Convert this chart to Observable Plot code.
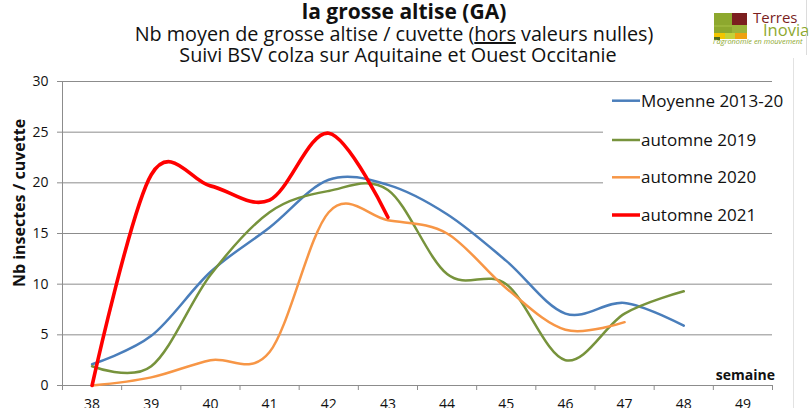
<!DOCTYPE html>
<html><head><meta charset="utf-8">
<script src="https://cdn.jsdelivr.net/npm/d3@7"></script>
<script src="https://cdn.jsdelivr.net/npm/@observablehq/plot@0.6"></script>
<style>
body{margin:0;background:#fff;font-family:"Open Sans",sans-serif;}
#wrap{position:relative;width:812px;height:408px;overflow:hidden;background:#fff;}
#chart{position:absolute;left:0;top:0;}
#overlay{position:absolute;left:0;top:0;pointer-events:none;font-family:"Open Sans",sans-serif;}
</style></head><body>
<div id="wrap">
  <div id="chart"></div>
  <svg id="overlay" width="812" height="408" xmlns="http://www.w3.org/2000/svg">
    <text x="404" y="18.5" text-anchor="middle" font-size="21" font-weight="bold" fill="#111">la grosse altise (GA)</text>
    <text x="394" y="41" text-anchor="middle" font-size="19.8" fill="#111">Nb moyen de grosse altise / cuvette (<tspan text-decoration="underline">hors</tspan> valeurs nulles)</text>
    <text x="398" y="62" text-anchor="middle" font-size="19.8" fill="#111">Suivi BSV colza sur Aquitaine et Ouest Occitanie</text>
    <text transform="translate(25,203) rotate(-90)" text-anchor="middle" font-size="16" font-weight="bold" fill="#111">Nb insectes / cuvette</text>
    <text x="775" y="380" text-anchor="end" font-size="14" font-weight="bold" fill="#111">semaine</text>
    <g id="legend"></g>
    <!-- logo -->
    <rect x="714" y="13" width="18" height="14" fill="#8da82e"/>
    <rect x="732" y="13" width="15" height="12" fill="#7b1f1f"/>
    <rect x="714" y="25" width="33" height="8" fill="#9bb53a"/>
    <rect x="714" y="27" width="18" height="6" fill="#8da82e"/>
    <rect x="714" y="33" width="11" height="6" fill="#f2c500"/>
    <rect x="725" y="33" width="10" height="6" fill="#c4d23a"/>
    <rect x="735" y="33" width="12" height="6" fill="#efa20f"/>
    <rect x="714" y="37" width="6" height="3" fill="#4e6b1f"/>
    <text x="753" y="23" font-size="15" fill="#7b1f1f">Terres</text>
    <text x="763" y="35.5" font-size="16.5" fill="#8da82e">Inovia</text>
    <text x="713" y="44" font-size="7.4" font-style="italic" fill="#8da82e">l'agronomie en mouvement</text>
    <rect x="806" y="0" width="1" height="27" fill="#dcdcdc"/>
    <rect x="806" y="33" width="1" height="22" fill="#dcdcdc"/>
    <rect x="793" y="58" width="1" height="350" fill="#e2e2e2"/>
  </svg>
</div>
<script>
// ---- data ----
const weeks = [38, 39, 40, 41, 42, 43, 44, 45, 46, 47, 48, 49];
const yTicks = [0, 5, 10, 15, 20, 25, 30];
const seriesNames = ["Moyenne 2013-20", "automne 2019", "automne 2020", "automne 2021"];
const moyenne2013_20 = [2.1, 4.9, 11.2, 15.6, 20.3, 19.8, 16.9, 12.3, 7.1, 8.15, 5.9];
const automne2019   = [1.9, 1.9, 10.9, 17.1, 19.2, 19.3, 11.0, 10.0, 2.5, 7.1, 9.3];
const automne2020   = [0, 0.8, 2.5, 3.3, 17.1, 16.3, 15.0, 9.6, 5.5, 6.25];
const automne2021   = [0, 20.8, 19.7, 18.3, 24.9, 16.6];

// ---- styles ----
const seriesColors = ["#4a7ebb", "#77933c", "#f79646", "#ff0000"];
const seriesWidths = [2.5, 2.5, 2.5, 3.6];
const swatchWidths = [2.5, 2.5, 2.5, 3.5];

const allValues = [moyenne2013_20, automne2019, automne2020, automne2021];
const rows = allValues.map((vals, s) => vals.map((v, i) => ({week: weeks[i], value: v, serie: seriesNames[s]})));
const bounds = [weeks[0] - 0.5, ...weeks.map(w => w + 0.5)];
const grid = "#8c8c8c";

const chart = Plot.plot({
  width: 812, height: 408,
  marginLeft: 62, marginRight: 40, marginTop: 81, marginBottom: 23,
  style: {fontFamily: "Open Sans", fontSize: "14px", color: "#111", background: "transparent", overflow: "visible"},
  x: {domain: [bounds[0], bounds[bounds.length - 1]], axis: null},
  y: {domain: [yTicks[0], yTicks[yTicks.length - 1]], axis: null},
  marks: [
    Plot.gridY(yTicks, {stroke: grid, strokeOpacity: 1, strokeWidth: 1}),
    Plot.ruleX([bounds[0]], {stroke: grid, strokeWidth: 1}),
    Plot.ruleY([yTicks[0]], {stroke: grid, strokeWidth: 1}),
    Plot.axisY(yTicks, {tickSize: 5, tickPadding: 9, stroke: grid, fontSize: 14, label: null}),
    Plot.axisX(bounds, {tickSize: 5, tickFormat: () => "", stroke: grid, label: null}),
    Plot.axisX(weeks, {tickSize: 0, tickPadding: 14, fontSize: 14, label: null}),
    ...rows.map((r, s) => Plot.line(r, {x: "week", y: "value", stroke: seriesColors[s], strokeWidth: seriesWidths[s], curve: "cardinal"}))
  ]
});
document.getElementById("chart").appendChild(chart);

// legend (white box over the gridlines, swatches + labels)
const NS = "http://www.w3.org/2000/svg";
const lg = document.getElementById("legend");
const mk = (tag, attrs, txt) => { const e = document.createElementNS(NS, tag); for (const k in attrs) e.setAttribute(k, attrs[k]); if (txt) e.textContent = txt; lg.appendChild(e); return e; };
mk("rect", {x: 603, y: 83, width: 169, height: 149, fill: "#fff"});
const swatchY = [100.7, 140, 177.3, 215];
seriesNames.forEach((n, i) => {
  mk("line", {x1: 612, x2: 640, y1: swatchY[i], y2: swatchY[i], stroke: seriesColors[i], "stroke-width": swatchWidths[i]});
  mk("text", {x: 641, y: swatchY[i] + 6, "font-size": 17, fill: "#111"}, n);
});
</script>
</body></html>
